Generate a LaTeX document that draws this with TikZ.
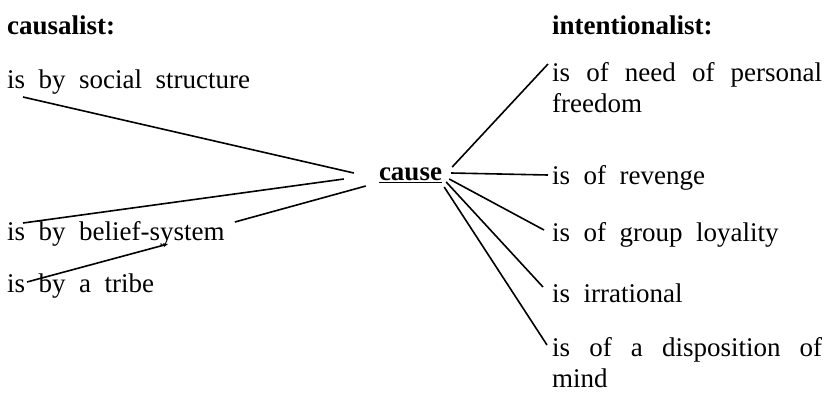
\documentclass[tikz,border=0pt]{standalone}
\usepackage{fontspec}
\setmainfont[WordSpace=2]{Liberation Serif}
\usetikzlibrary{arrows.meta,positioning,calc}

\begin{document}
\begin{tikzpicture}[x=1pt, y=-1pt,
  >=Stealth,
  lbl/.style={anchor=west, inner sep=0pt, align=left, font=\fontsize{27}{31}\selectfont},
  hd/.style={lbl, font=\fontsize{27}{31}\selectfont\bfseries},
  ln/.style={line width=1.6pt}]
  \useasboundingbox (0,0) rectangle (835,397);
  % headings
  \node[hd] (caus) at (7,25) {causalist:};
  \node[hd] (intent) at (552,25) {intentionalist:};
  \node[hd, anchor=center] (cause) at (410.5,175) {\underline{cause}};
  % causalist side
  \node[lbl] (soc) at (7,82) {is by social structure};
  \node[lbl] (bel) at (7,234) {is by belief-system};
  \node[lbl] (tri) at (7,286) {is by a tribe};
  % intentionalist side
  \node[lbl] (need) at (552,87.5) {\makebox[270pt][s]{is of need of personal}\\freedom};
  \node[lbl] (rev) at (552,178) {is of revenge};
  \node[lbl] (grp) at (552,235) {is of group loyality};
  \node[lbl] (irr) at (552,293) {is irrational};
  \node[lbl] (disp) at (552,362.5) {\makebox[270pt][s]{is of a disposition of}\\mind};
  % connectors
  \draw[ln] ($(soc.west)+(16,15)$) -- ($(cause.west)+(-25,-2)$);
  \draw[ln] ($(bel.west)+(16,-11)$) -- ($(cause.west)+(-35,4)$);
  \draw[ln] ($(bel.east)+(10,-12)$) -- ($(cause.west)+(-13,11)$);
  \draw[ln, -{Stealth[length=5pt,width=4pt]}] ($(tri.west)+(20,-4)$) -- ($(bel.west)+(161,10)$);
  \draw[ln] ($(cause.east)+(10,-8)$) -- ($(need.west)+(-4,-23.5)$);
  \draw[ln] ($(cause.east)+(9,-2)$) -- ($(rev.west)+(-4,-3)$);
  \draw[ln] ($(cause.east)+(7,4)$) -- ($(grp.west)+(-8,-5)$);
  \draw[ln] ($(cause.east)+(4,7)$) -- ($(irr.west)+(-9,-6)$);
  \draw[ln] ($(cause.east)+(2,12)$) -- ($(disp.west)+(-5,-17.5)$);
\end{tikzpicture}
\end{document}
